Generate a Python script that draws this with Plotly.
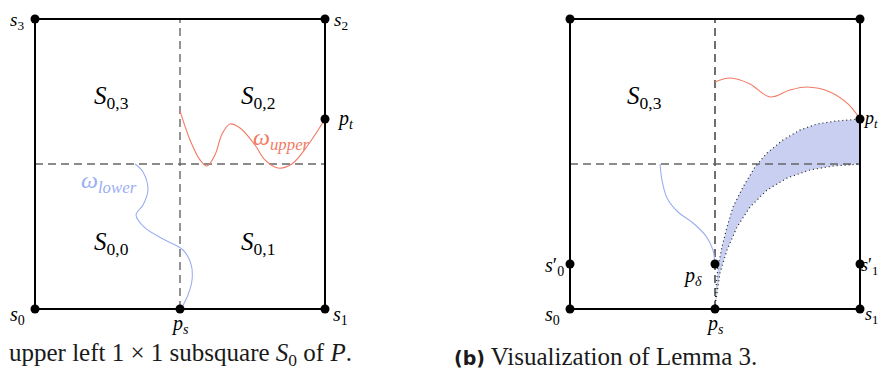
import plotly.graph_objects as go

# ---- data (square side = 2 units; each subsquare is 1x1) ----
square_x = [0, 2, 2, 0, 0]
square_y = [0, 0, 2, 2, 0]
mid_v_x = [1, 1]
mid_v_y = [0, 2]
mid_h_x = [0, 2]
mid_h_y = [1, 1]

# left panel curves
upper_left_x = [1.0, 1.069, 1.138, 1.186, 1.241, 1.290, 1.345, 1.414, 1.517, 1.586, 1.676, 1.772, 1.883, 2.0]
upper_left_y = [1.366, 1.166, 1.028, 0.986, 1.062, 1.207, 1.276, 1.248, 1.131, 1.028, 0.972, 1.0, 1.131, 1.310]
lower_left_x = [0.690, 0.745, 0.779, 0.745, 0.697, 0.759, 0.897, 1.021, 1.076, 1.083, 1.055, 1.007]
lower_left_y = [1.0, 0.945, 0.821, 0.717, 0.648, 0.559, 0.476, 0.407, 0.310, 0.2, 0.097, 0.0]

# right panel curves
upper_right_x = [1.0, 1.103, 1.241, 1.379, 1.517, 1.634, 1.793, 1.917, 2.0]
upper_right_y = [1.566, 1.593, 1.552, 1.462, 1.510, 1.531, 1.497, 1.414, 1.310]
lower_right_x = [0.621, 0.634, 0.669, 0.745, 0.848, 0.938, 0.986, 1.0]
lower_right_y = [1.0, 0.890, 0.766, 0.669, 0.593, 0.503, 0.407, 0.310]

band_top_x = [1.0, 1.007, 1.021, 1.048, 1.083, 1.124, 1.193, 1.276, 1.359, 1.469, 1.586, 1.703, 1.841, 2.0]
band_top_y = [0.0, 0.152, 0.290, 0.428, 0.566, 0.703, 0.841, 0.979, 1.076, 1.166, 1.234, 1.276, 1.297, 1.310]
band_bot_x = [1.0, 1.007, 1.034, 1.083, 1.152, 1.241, 1.359, 1.497, 1.655, 1.814, 2.0]
band_bot_y = [0.0, 0.062, 0.248, 0.407, 0.566, 0.703, 0.821, 0.903, 0.959, 0.986, 1.0]

# points
left_pts_x = [0, 1, 2, 2, 0, 2]
left_pts_y = [0, 0, 0, 2, 2, 1.310]
right_pts_x = [0, 1, 2, 2, 0, 2, 0, 2, 1]
right_pts_y = [0, 0, 0, 2, 2, 1.310, 0.310, 0.310, 0.310]

# labels
top_labels = ["<i>s</i><sub>3</sub>", "<i>s</i><sub>2</sub>"]
top_labels_x = [-0.124, 2.11]
left_labels = ["<i>p</i><sub><i>t</i></sub>", "<i>s</i><sub>0</sub>", "<i>p</i><sub><i>s</i></sub>", "<i>s</i><sub>1</sub>"]
left_labels_x = [2.14, -0.124, 1.0, 2.11]
left_labels_y = [1.310, -0.048, -0.11, -0.048]

region_labels = ["<i>S</i><sub>0,3</sub>", "<i>S</i><sub>0,2</sub>", "<i>S</i><sub>0,0</sub>", "<i>S</i><sub>0,1</sub>"]
region_labels_x = [0.531, 1.538, 0.531, 1.538]
region_labels_y = [1.462, 1.462, 0.455, 0.455]

right_labels = ["<i>s</i><sub>0</sub>", "<i>s</i>′<sub>0</sub>", "<i>p</i><sub><i>δ</i></sub>",
                "<i>p</i><sub><i>s</i></sub>", "<i>S</i><sub>0,3</sub>"]
right_labels_x = [-0.124, -0.11, 0.848, 1.0, 0.517]
right_labels_y = [-0.048, 0.29, 0.221, -0.11, 1.462]
right_edge_labels = ["<i>s</i><sub>1</sub>", "<i>s</i>′<sub>1</sub>", "<i>p</i><sub><i>t</i></sub>"]
right_edge_labels_y = [-0.048, 0.29, 1.31]

RED = "#f27a64"
BLUE = "#9aaef2"
FILL = "#c8cff0"
SERIF = "Liberation Serif"
DASH = "8px,5px"

fig = go.Figure()

def add_frame(xa, vcolor):
    fig.add_trace(go.Scatter(x=mid_v_x, y=mid_v_y, xaxis=xa, yaxis="y", mode="lines",
                             line=dict(color=vcolor, width=1.4, dash=DASH)))
    fig.add_trace(go.Scatter(x=mid_h_x, y=mid_h_y, xaxis=xa, yaxis="y", mode="lines",
                             line=dict(color="#666666", width=1.4, dash=DASH)))

# ---- left panel ----
add_frame("x", "#666666")
fig.add_trace(go.Scatter(x=upper_left_x, y=upper_left_y, xaxis="x", yaxis="y", mode="lines",
                         line=dict(color=RED, width=1.1, shape="spline", smoothing=1.0)))
fig.add_trace(go.Scatter(x=lower_left_x, y=lower_left_y, xaxis="x", yaxis="y", mode="lines",
                         line=dict(color=BLUE, width=1.1, shape="spline", smoothing=1.0)))
fig.add_trace(go.Scatter(x=square_x, y=square_y, xaxis="x", yaxis="y", mode="lines",
                         line=dict(color="black", width=2)))
fig.add_trace(go.Scatter(x=left_pts_x, y=left_pts_y, xaxis="x", yaxis="y", mode="markers",
                         marker=dict(color="black", size=9)))

# ---- right panel ----
band_x = band_top_x + band_bot_x[::-1]
band_y = band_top_y + band_bot_y[::-1]
fig.add_trace(go.Scatter(x=band_x, y=band_y, xaxis="x2", yaxis="y", mode="lines", fill="toself",
                         fillcolor=FILL, line=dict(width=0, color=FILL)))
add_frame("x2", "#333333")
fig.add_trace(go.Scatter(x=band_top_x, y=band_top_y, xaxis="x2", yaxis="y", mode="lines",
                         line=dict(color="#222222", width=1.2, dash="1px,3px")))
fig.add_trace(go.Scatter(x=band_bot_x, y=band_bot_y, xaxis="x2", yaxis="y", mode="lines",
                         line=dict(color="#222222", width=1.2, dash="1px,3px")))
fig.add_trace(go.Scatter(x=upper_right_x, y=upper_right_y, xaxis="x2", yaxis="y", mode="lines",
                         line=dict(color=RED, width=1.1, shape="spline", smoothing=1.0)))
fig.add_trace(go.Scatter(x=lower_right_x, y=lower_right_y, xaxis="x2", yaxis="y", mode="lines",
                         line=dict(color=BLUE, width=1.1, shape="spline", smoothing=1.0)))
fig.add_trace(go.Scatter(x=square_x, y=square_y, xaxis="x2", yaxis="y", mode="lines",
                         line=dict(color="black", width=2)))
fig.add_trace(go.Scatter(x=right_pts_x, y=right_pts_y, xaxis="x2", yaxis="y", mode="markers",
                         marker=dict(color="black", size=9)))

SMALL = 20
BIG = 25
ann = []
for t, x in zip(top_labels, top_labels_x):
    ann.append(dict(text=t, x=x, y=1.0, xref="x", yref="paper", yanchor="top", showarrow=False,
                    borderpad=0, font=dict(family=SERIF, size=19, color="black")))
for t, x, y in zip(left_labels, left_labels_x, left_labels_y):
    ann.append(dict(text=t, x=x, y=y, xref="x", yref="y", showarrow=False, borderpad=0,
                    font=dict(family=SERIF, size=SMALL, color="black")))
for t, x, y in zip(region_labels, region_labels_x, region_labels_y):
    ann.append(dict(text=t, x=x, y=y, xref="x", yref="y", showarrow=False,
                    font=dict(family=SERIF, size=BIG, color="black")))
for t, x, y in zip(right_labels, right_labels_x, right_labels_y):
    ann.append(dict(text=t, x=x, y=y, xref="x2", yref="y", showarrow=False, borderpad=0,
                    font=dict(family=SERIF, size=BIG if t.startswith("<i>S") else SMALL, color="black")))
for t, y in zip(right_edge_labels, right_edge_labels_y):
    ann.append(dict(text=t, x=1.0, y=y, xref="paper", yref="y", xanchor="right", showarrow=False,
                    borderpad=0, font=dict(family=SERIF, size=18, color="black")))
ann.append(dict(text="<i>ω</i><sub><i>upper</i></sub>", x=1.703, y=1.172, xref="x", yref="y",
                showarrow=False, font=dict(family=SERIF, size=24, color=RED)))
ann.append(dict(text="<i>ω</i><sub><i>lower</i></sub>", x=0.51, y=0.876, xref="x", yref="y",
                showarrow=False, font=dict(family=SERIF, size=24, color=BLUE)))
ann.append(dict(text="upper left 1 × 1 subsquare <i>S</i><sub>0</sub> of <i>P</i>.", x=0.0, y=0.0,
                xref="paper", yref="paper", xanchor="left", yanchor="bottom", showarrow=False,
                borderpad=0, font=dict(family=SERIF, size=25, color="#1a1a1a")))
ann.append(dict(text="<span style='font-family:DejaVu Sans;font-size:19px'><b>(b)</b></span> Visualization of Lemma 3.",
                x=445/871, y=0.0, xref="paper", yref="paper", xanchor="left", yanchor="bottom",
                borderpad=0, showarrow=False, font=dict(family=SERIF, size=25, color="#1a1a1a")))

# the page body adds an 8px margin, so the figure is 16px smaller than the window
W, H = 871, 363
axis_common = dict(visible=False, showgrid=False, zeroline=False, fixedrange=True)
fig.update_layout(
    width=W, height=H, margin=dict(l=0, r=0, t=0, b=0),
    paper_bgcolor="white", plot_bgcolor="white", showlegend=False,
    xaxis=dict(domain=[0, 0.5], range=[-27/145, (435.5-27)/145], anchor="y", **axis_common),
    xaxis2=dict(domain=[0.5, 1], range=[-(562-435.5)/145, (871-562)/145], anchor="y", **axis_common),
    yaxis=dict(domain=[0, 1], range=[-(363-301)/145, 301/145], **axis_common),
    annotations=ann,
)
fig.write_html("out.html")
